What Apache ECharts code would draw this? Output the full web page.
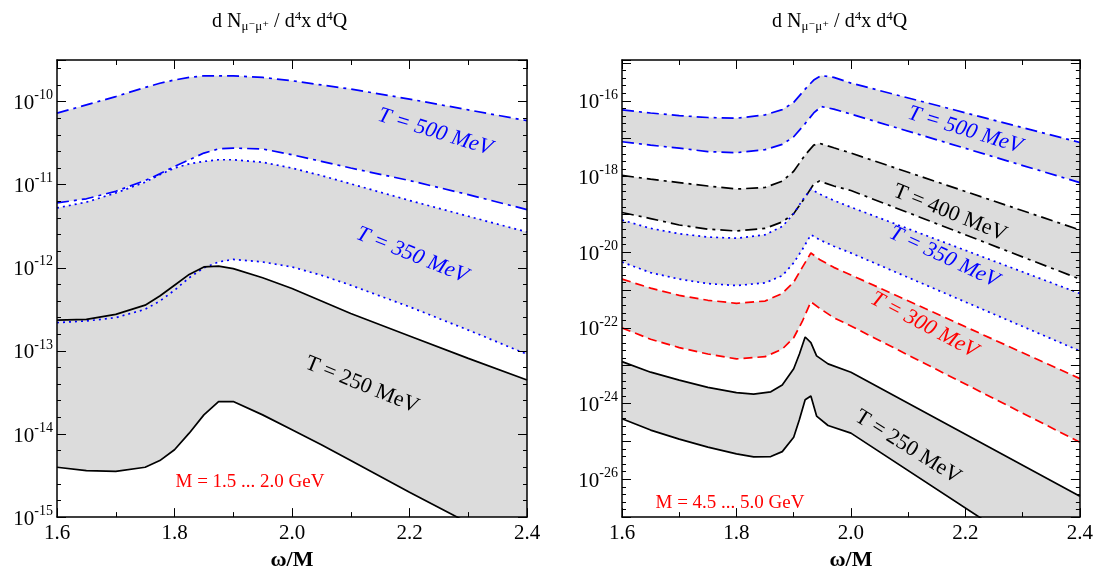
<!DOCTYPE html>
<html><head><meta charset="utf-8">
<script src="https://cdn.jsdelivr.net/npm/echarts@6/dist/echarts.min.js"></script>
<style>html,body{margin:0;background:#fff}#c{width:1096px;height:576px}</style>
</head><body><div id="c"></div>
<script>
// values are log10 of dN/d4x d4Q
const xL = [1.6,1.65,1.7,1.75,1.775,1.8,1.825,1.85,1.875,1.9,1.95,2.0,2.05,2.1,2.2,2.3,2.4];
const L500hi = [-10.14,-10.04,-9.94,-9.83,-9.78,-9.74,-9.71,-9.69,-9.69,-9.69,-9.71,-9.75,-9.8,-9.85,-9.97,-10.1,-10.23];
const L500lo = [-11.22,-11.17,-11.08,-10.95,-10.87,-10.78,-10.7,-10.62,-10.57,-10.56,-10.57,-10.64,-10.72,-10.8,-10.95,-11.12,-11.3];
const L350hi = [-11.28,-11.21,-11.1,-10.97,-10.88,-10.8,-10.75,-10.72,-10.7,-10.7,-10.73,-10.8,-10.89,-10.99,-11.19,-11.38,-11.57];
const L350lo = [-12.66,-12.64,-12.6,-12.5,-12.4,-12.27,-12.12,-12.0,-11.93,-11.9,-11.93,-11.99,-12.09,-12.21,-12.47,-12.75,-13.04];
const L250hi = [-12.63,-12.62,-12.56,-12.45,-12.34,-12.21,-12.08,-11.99,-11.98,-12.01,-12.12,-12.25,-12.4,-12.55,-12.82,-13.09,-13.35];
const L250lo = [-14.4,-14.44,-14.45,-14.4,-14.32,-14.19,-13.99,-13.77,-13.61,-13.61,-13.77,-13.95,-14.13,-14.32,-14.7,-15.07,-15.45];

const xR500 = [1.6,1.65,1.7,1.75,1.8,1.85,1.88,1.9,1.92,1.935,1.948,1.97,2.0,2.4];
const R500hi = [-16.24,-16.32,-16.39,-16.44,-16.46,-16.37,-16.23,-16.04,-15.69,-15.45,-15.33,-15.38,-15.53,-17.1];
const R500lo = [-17.08,-17.17,-17.25,-17.34,-17.37,-17.29,-17.15,-16.95,-16.6,-16.32,-16.15,-16.22,-16.35,-18.16];
const xR400 = [1.6,1.65,1.7,1.75,1.8,1.85,1.88,1.9,1.92,1.935,1.945,1.97,2.0,2.4];
const R400hi = [-17.97,-18.07,-18.16,-18.25,-18.33,-18.29,-18.12,-17.86,-17.43,-17.17,-17.12,-17.24,-17.38,-19.41];
const R400lo = [-18.95,-19.11,-19.28,-19.39,-19.44,-19.37,-19.2,-18.98,-18.55,-18.2,-18.12,-18.25,-18.37,-20.71];
const xR350 = [1.6,1.65,1.7,1.75,1.8,1.85,1.88,1.9,1.915,1.93,1.945,1.97,2.0,2.4];
const R350hi = [-19.15,-19.37,-19.51,-19.6,-19.63,-19.54,-19.32,-18.98,-18.63,-18.33,-18.46,-18.63,-18.81,-21.09];
const R350lo = [-20.26,-20.54,-20.71,-20.83,-20.88,-20.81,-20.62,-20.28,-19.93,-19.54,-19.67,-19.84,-20.02,-22.61];
const xR300 = [1.6,1.65,1.7,1.75,1.8,1.85,1.88,1.9,1.915,1.93,1.945,1.97,2.0,2.4];
const R300hi = [-20.71,-20.95,-21.14,-21.27,-21.35,-21.29,-21.09,-20.79,-20.4,-20.02,-20.19,-20.4,-20.6,-23.34];
const R300lo = [-22.0,-22.3,-22.52,-22.69,-22.82,-22.76,-22.56,-22.26,-21.83,-21.31,-21.48,-21.73,-21.95,-25.02];
const xR250 = [1.6,1.65,1.7,1.75,1.8,1.83,1.86,1.88,1.9,1.91,1.92,1.93,1.94,1.96,2.0,2.4];
const R250hi = [-22.89,-23.17,-23.38,-23.57,-23.71,-23.75,-23.69,-23.51,-23.08,-22.69,-22.24,-22.39,-22.74,-22.95,-23.17,-26.45];
const R250lo = [-24.4,-24.7,-24.94,-25.15,-25.33,-25.41,-25.4,-25.27,-24.89,-24.42,-23.9,-23.8,-24.33,-24.58,-24.78,-28.74];

const FONT = '"Liberation Serif","DejaVu Serif",serif';
const DASHDOT=[12,5,3,5], DASH=[9,5], DOT=[2,4];
const BLUE='#0000ff', RED='#ff0000', BLACK='#000';
const series=[];
function band(g, xs, hi, lo){
  series.push({type:'custom',xAxisIndex:g,yAxisIndex:g,z:1,silent:true,clip:true,
    data:[0],
    renderItem:(params,api)=>{
      const pts=[];
      xs.forEach((x,i)=>pts.push(api.coord([x,hi[i]])));
      for(let i=xs.length-1;i>=0;i--) pts.push(api.coord([xs[i],lo[i]]));
      const cs=params.coordSys;
      return {type:'polygon',shape:{points:pts},style:{fill:'#dcdcdc'},
        clipPath:{type:'rect',shape:{x:cs.x,y:cs.y,width:cs.width,height:cs.height}}};
    }});
}
function line(g, xs, ys, color, type){
  series.push({type:'line',xAxisIndex:g,yAxisIndex:g,symbol:'none',smooth:false,z:3,silent:true,
    lineStyle:{color:color,width:1.7,type:type},data:xs.map((x,i)=>[x,ys[i]])});
}
band(0,xL,L500hi,L500lo); band(0,xL,L350hi,L350lo); band(0,xL,L250hi,L250lo);
line(0,xL,L500hi,BLUE,DASHDOT); line(0,xL,L500lo,BLUE,DASHDOT);
line(0,xL,L350hi,BLUE,DOT); line(0,xL,L350lo,BLUE,DOT);
line(0,xL,L250hi,BLACK,'solid'); line(0,xL,L250lo,BLACK,'solid');
band(1,xR500,R500hi,R500lo); band(1,xR400,R400hi,R400lo); band(1,xR350,R350hi,R350lo);
band(1,xR300,R300hi,R300lo); band(1,xR250,R250hi,R250lo);
line(1,xR500,R500hi,BLUE,DASHDOT); line(1,xR500,R500lo,BLUE,DASHDOT);
line(1,xR400,R400hi,BLACK,DASHDOT); line(1,xR400,R400lo,BLACK,DASHDOT);
line(1,xR350,R350hi,BLUE,DOT); line(1,xR350,R350lo,BLUE,DOT);
line(1,xR300,R300hi,RED,DASH); line(1,xR300,R300lo,RED,DASH);
line(1,xR250,R250hi,BLACK,'solid'); line(1,xR250,R250lo,BLACK,'solid');

const grids=[{left:57,width:470,top:60,bottom:51},{left:622,width:460,top:60,bottom:51}];
function xax(g, show){
  return {type:'value',gridIndex:g,min:1.6,max:2.4,interval:0.2,position:show?'bottom':'top',
    axisLine:{lineStyle:{color:'#000',width:1.5}},z:5,
    axisTick:{inside:true,length:9,lineStyle:{color:'#000'}},
    minorTick:{show:true,splitNumber:2,length:5,lineStyle:{color:'#000'}},
    splitLine:{show:false},
    axisLabel:{show:show,color:'#000',fontFamily:FONT,fontSize:21,margin:6,formatter:v=>v.toFixed(1)},
    name:show?'ω/M':'',nameLocation:'middle',nameGap:25,
    nameTextStyle:{color:'#000',fontFamily:FONT,fontSize:22,fontWeight:'bold'}};
}
function yax(g, show, min, max, every){
  return {type:'value',gridIndex:g,min:min,max:max,interval:1,position:show?'left':'right',
    axisLine:{lineStyle:{color:'#000',width:1.5}},z:5,
    axisTick:{inside:true,length:9,lineStyle:{color:'#000'}},
    minorTick:{show:true,splitNumber:5,length:4,lineStyle:{color:'#000'}},
    splitLine:{show:false},
    axisLabel:{show:show,margin:4,formatter:v=>{
        if(Math.abs(v-Math.round(v))>1e-6 || Math.round(v)%every!==0) return '';
        return '{b|10}{s|'+Math.round(v)+'}';},
      rich:{b:{fontFamily:FONT,fontSize:21,color:'#000',padding:[4,0,0,0]},
            s:{fontFamily:FONT,fontSize:14,color:'#000',padding:[0,0,12,0]}}}};
}
const title = (x)=>({type:'text',left:x,top:10,style:{
  text:'d N{sub|μ⁻μ⁺} / d{sup|4}x d{sup|4}Q',font:'20px '+FONT,fill:'#000',
  rich:{sub:{fontFamily:FONT,fontSize:13,padding:[10,0,0,0]},sup:{fontFamily:FONT,fontSize:13,padding:[0,0,10,0]}}}});
function lab(x,y,rot,text,color,italic,size){
  return {type:'text',x:x,y:y,rotation:rot*Math.PI/180,z:10,style:{text:text,fill:color,
    font:(italic?'italic ':'')+(size||22)+'px '+FONT,align:'center',verticalAlign:'middle'}};
}
const chart=echarts.init(document.getElementById('c'));
chart.setOption({
  animation:false,
  grid:grids,
  xAxis:[xax(0,true),xax(1,true),xax(0,false),xax(1,false)],
  yAxis:[yax(0,true,-15,-9.5,1),yax(1,true,-27,-14.92,2),yax(0,false,-15,-9.5,1),yax(1,false,-27,-14.92,2)],
  series:series,
  graphic:[title(212),title(772),
    lab(435,132,-17,'T = 500 MeV',BLUE,true),
    lab(412,255,-22,'T = 350 MeV',BLUE,true),
    lab(362,385,-22,'T = 250 MeV',BLACK,false),
    lab(250,482,0,'M = 1.5 ... 2.0 GeV',RED,false,19),
    lab(965,130,-17,'T = 500 MeV',BLUE,true),
    lab(950,213,-22,'T = 400 MeV',BLACK,false),
    lab(944,257,-25,'T = 350 MeV',BLUE,true),
    lab(924,325,-28,'T = 300 MeV',RED,true),
    lab(908,447,-32,'T = 250 MeV',BLACK,false),
    lab(730,503,0,'M = 4.5 ... 5.0 GeV',RED,false,19)]
});
</script></body></html>
